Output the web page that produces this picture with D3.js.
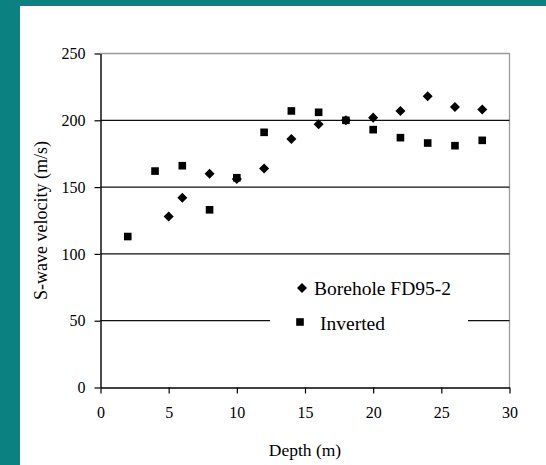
<!DOCTYPE html>
<html>
<head>
<meta charset="utf-8">
<script src="https://cdn.jsdelivr.net/npm/d3@7"></script>
<style>
  html, body { margin: 0; padding: 0; background: #0b8181; }
  svg { display: block; }
  svg text { font-family: "Liberation Serif", "Times New Roman", serif !important; fill: #000; }
</style>
</head>
<body>
<svg id="chart" width="546" height="465"></svg>
<script>
// S-wave velocity profile: borehole measurements vs. inverted model
const boreholeDepth = [5, 6, 8, 10, 12, 14, 16, 18, 20, 22, 24, 26, 28];
const boreholeVel   = [128, 142, 160, 156, 164, 186, 197, 200, 202, 207, 218, 210, 208];
const invertedDepth = [2, 4, 6, 8, 10, 12, 14, 16, 18, 20, 22, 24, 26, 28];
const invertedVel   = [113, 162, 166, 133, 157, 191, 207, 206, 200, 193, 187, 183, 181, 185];
const xTicks = [0, 5, 10, 15, 20, 25, 30];
const yTicks = [0, 50, 100, 150, 200, 250];
const seriesNames = ["Borehole FD95-2", "Inverted"];

const serif = '"Liberation Serif", "Times New Roman", serif';
const svg = d3.select("#chart");

// white panel inside the teal frame
svg.append("rect").attr("x", 20).attr("y", 6).attr("width", 526).attr("height", 459).attr("fill", "#fff");

const x = d3.scaleLinear().domain([0, 30]).range([100.5, 509.5]);
const y = d3.scaleLinear().domain([0, 250]).range([387.5, 53.5]);

// plot frame (top and right, light grey)
svg.append("path")
  .attr("d", `M${x(0)},${y(250)}H${x(30)}V${y(0)}`)
  .attr("fill", "none").attr("stroke", "#9a9a9a").attr("stroke-width", 1.3);

// horizontal gridlines
svg.append("g").selectAll("line")
  .data(yTicks.filter(v => v > 0 && v < 250))
  .join("line")
  .attr("x1", x(0)).attr("x2", x(30))
  .attr("y1", d => y(d)).attr("y2", d => y(d))
  .attr("stroke", "#111").attr("stroke-width", 1.2);

// axes
const yAxis = d3.axisLeft(y).tickValues(yTicks).tickSize(6).tickSizeOuter(0).tickPadding(9);
const xAxis = d3.axisBottom(x).tickValues(xTicks).tickSize(6).tickSizeOuter(0).tickPadding(13);

const gy = svg.append("g").attr("transform", `translate(${x(0)},0)`).call(yAxis);
const gx = svg.append("g").attr("transform", `translate(0,${y(0)})`).call(xAxis);
[gx, gy].forEach(g => {
  g.attr("font-family", null).attr("font-size", null);
  g.select(".domain").attr("stroke", "#000").attr("stroke-width", 1.4);
  g.selectAll(".tick line").attr("stroke", "#000").attr("stroke-width", 1.2);
  g.selectAll("text").style("font-family", serif).style("font-size", "16px").attr("fill", "#000");
});

// axis titles
svg.append("text")
  .attr("x", (x(0) + x(30)) / 2).attr("y", 456)
  .attr("text-anchor", "middle").style("font-size", "17.5px").style("font-family", serif)
  .text("Depth (m)");
svg.append("text")
  .attr("transform", `translate(47,${(y(0) + y(250)) / 2}) rotate(-90)`)
  .attr("text-anchor", "middle").style("font-size", "18px").style("font-family", serif)
  .text("S-wave velocity (m/s)");

const diamond = d3.symbol().type(d3.symbolDiamond2).size(64);
const square = d3.symbol().type(d3.symbolSquare).size(58);

// inverted model points (squares)
svg.append("g").selectAll("path")
  .data(invertedDepth.map((d, i) => [d, invertedVel[i]]))
  .join("path")
  .attr("d", square)
  .attr("transform", d => `translate(${x(d[0])},${y(d[1])})`)
  .attr("fill", "#000");

// borehole points (diamonds)
svg.append("g").selectAll("path")
  .data(boreholeDepth.map((d, i) => [d, boreholeVel[i]]))
  .join("path")
  .attr("d", diamond)
  .attr("transform", d => `translate(${x(d[0])},${y(d[1])})`)
  .attr("fill", "#000");

// legend
const legend = svg.append("g");
legend.append("rect").attr("x", 270).attr("y", 262).attr("width", 198).attr("height", 84).attr("fill", "#fff");
legend.append("path").attr("d", diamond).attr("transform", "translate(302,288)").attr("fill", "#000");
legend.append("text").attr("x", 314).attr("y", 295).style("font-size", "19.5px").style("font-family", serif).text(seriesNames[0]);
legend.append("path").attr("d", square).attr("transform", "translate(300,322)").attr("fill", "#000");
legend.append("text").attr("x", 320).attr("y", 330).style("font-size", "19.5px").style("font-family", serif).text(seriesNames[1]);
</script>
</body>
</html>
